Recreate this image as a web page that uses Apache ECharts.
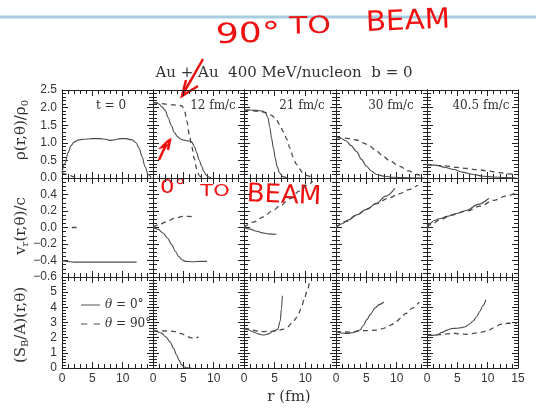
<!DOCTYPE html>
<html>
<head>
<meta charset="utf-8">
<title>Au + Au 400 MeV/nucleon b = 0</title>
<script src="https://cdn.jsdelivr.net/npm/echarts@6/dist/echarts.min.js"></script>
<style>
html, body { margin: 0; padding: 0; background: #fff; }
#main { width: 536px; height: 408px; }
</style>
</head>
<body>
<div id="main"></div>
<script>
// panel titles and tick values
var panelTimes = ['t = 0', '12 fm/c', '21 fm/c', '30 fm/c', '40.5 fm/c'];
var rTicks = [0, 5, 10, 15];
var rhoTicks = [0, 0.5, 1, 1.5, 2, 2.5];
var vTicks = [-0.6, -0.4, -0.2, 0, 0.2, 0.4, 0.6];
var sTicks = [0, 1, 2, 3, 4, 5, 6];
var rhoLabels = ['0.0', '0.5', '1.0', '1.5', '2.0', '2.5'];
var vLabels = ['\u22120.6', '\u22120.4', '\u22120.2', '0.0', '0.2', '0.4', ''];
var sLabels = ['0', '1', '2', '3', '4', '5', ''];
var legendNames = ['\u03b8 = 0\u00b0', '\u03b8 = 90\u00b0'];

// density rho(r,theta)/rho0 : [r, value]
var rho_t0_solid = [[0,0.16],[0.5,0.42],[1,0.72],[1.5,0.92],[2,1.02],[2.7,1.08],[3.5,1.1],[5,1.12],[6.3,1.12],[7.2,1.1],[7.9,1.07],[8.6,1.08],[9.6,1.12],[10.5,1.12],[11.5,1.09],[12.2,1.0],[12.7,0.85],[13.2,0.6],[13.7,0.32],[14.2,0.1],[14.7,0.01]];
var rho_t0_dash = [[0,0.15],[1,0.1],[2,0.03],[2.5,0]];
var rho_12_solid = [[0,2.15],[0.5,2.14],[1,2.1],[1.5,2.02],[2,1.92],[2.5,1.72],[3,1.5],[3.5,1.3],[4,1.18],[4.5,1.11],[5,1.08],[5.5,1.06],[6,1.05],[6.4,1.02],[6.8,0.9],[7.2,0.72],[7.6,0.52],[8,0.34],[8.4,0.18],[8.8,0.08],[9.2,0.03],[9.6,0]];
var rho_12_dash = [[0,2.15],[1,2.12],[2,2.1],[3,2.08],[4,2.07],[4.8,2.05],[5.2,1.9],[5.6,1.6],[6,1.22],[6.4,0.88],[6.8,0.55],[7.2,0.26],[7.6,0.07],[8,0]];
var rho_21_solid = [[0,1.93],[1,1.93],[2,1.92],[3,1.9],[3.5,1.85],[3.9,1.72],[4.2,1.45],[4.5,1.12],[4.8,0.85],[5.1,0.56],[5.4,0.33],[5.8,0.14],[6.3,0.04],[7,0]];
var rho_21_dash = [[0,1.93],[1,1.92],[2,1.9],[3,1.88],[3.8,1.85],[4.5,1.78],[5.2,1.68],[5.8,1.52],[6.4,1.32],[7,1.1],[7.5,0.85],[8,0.6],[8.5,0.4],[9,0.26],[9.6,0.15],[10.3,0.07],[11,0.02]];
var rho_30_solid = [[0,1.16],[0.8,1.13],[1.7,1.05],[2.5,0.92],[3.4,0.75],[4.2,0.53],[5,0.34],[5.8,0.2],[6.7,0.1],[8,0.05],[9.4,0.02],[11,0.01],[13,0],[14.5,0]];
var rho_30_dash = [[0,1.16],[1,1.14],[2,1.12],[3.4,1.08],[4.5,1],[5.6,0.9],[6.7,0.76],[7.8,0.61],[9,0.47],[10.5,0.33],[12,0.2],[13.3,0.1],[14.6,0.03]];
var rho_40_solid = [[0,0.38],[1.6,0.36],[3,0.3],[4.4,0.24],[6,0.16],[7.7,0.1],[9.3,0.05],[11,0.03],[13,0.01],[14.8,0]];
var rho_40_dash = [[0,0.38],[1.5,0.36],[3.3,0.34],[5,0.3],[6.6,0.27],[8.2,0.24],[10,0.2],[12,0.15],[13.5,0.12],[14.8,0.09]];

// radial velocity v_r(r,theta)/c
var v_t0_solid = [[0,-0.4],[0.8,-0.41],[2,-0.42],[5,-0.42],[8,-0.42],[10,-0.42],[12.3,-0.42]];
var v_t0_dash = [[1.6,0],[2.4,0]];
var v_12_solid = [[0,0],[0.8,-0.02],[1.7,-0.07],[2.4,-0.13],[3.1,-0.21],[3.7,-0.29],[4.2,-0.35],[4.8,-0.39],[5.3,-0.41],[6.5,-0.415],[8,-0.41],[8.9,-0.41]];
var v_12_dash = [[0,0],[1,0.035],[2.25,0.07],[3.5,0.11],[5,0.135],[6,0.135],[6.9,0.12]];
var v_21_solid = [[0,0],[1,-0.02],[2.1,-0.045],[3,-0.065],[3.8,-0.075],[4.6,-0.08],[5.3,-0.082]];
var v_21_dash = [[0,0],[1.5,0.065],[3.2,0.13],[4.6,0.2],[6,0.27],[7.5,0.35],[9,0.44],[10.2,0.51],[11.2,0.56]];
var v_30_solid = [[0,0],[1,0.045],[2,0.09],[3.4,0.153],[5,0.22],[6.7,0.294],[8.2,0.38],[9.7,0.475]];
var v_30_dash = [[0,0],[1.7,0.075],[3.4,0.15],[5,0.22],[6.7,0.29],[8.5,0.35],[10.5,0.41],[12,0.46],[13.6,0.52]];
var v_40_solid = [[0,0],[0.5,0.05],[1.2,0.085],[2.2,0.11],[3.3,0.135],[4.9,0.17],[6.6,0.21],[8.4,0.28],[10.2,0.355]];
var v_40_dash = [[0,0],[1,0.05],[2,0.09],[4,0.15],[6.6,0.2],[8.8,0.26],[11,0.33],[13,0.38],[14.8,0.43]];

// entropy per baryon (S_B/A)(r,theta)
var s_12_solid = [[0,2.45],[0.7,2.4],[1.4,2.3],[2.1,2.05],[2.8,1.73],[3.4,1.3],[3.9,0.85],[4.3,0.5],[4.7,0.22],[5.1,0.08],[5.5,0.02],[6.3,0]];
var s_12_dash = [[0,2.45],[0.8,2.45],[1.7,2.45],[2.8,2.43],[3.9,2.4],[4.8,2.25],[5.5,2.1],[6.2,2],[6.9,1.95],[7.5,2.05]];
var s_21_solid = [[0,2.62],[0.7,2.52],[1.5,2.38],[2.3,2.25],[3.2,2.18],[4,2.25],[4.8,2.44],[5.5,2.55],[5.9,3.1],[6.1,3.9],[6.25,4.77]];
var s_21_dash = [[0,2.62],[0.8,2.58],[1.5,2.5],[2.3,2.42],[3.2,2.4],[4.3,2.42],[5.4,2.45],[6.3,2.55],[7,2.68],[7.8,2.95],[8.7,3.37],[9.3,3.9],[9.8,4.5],[10.3,5.1],[10.7,5.7]];
var s_30_solid = [[0,2.4],[0.6,2.33],[1.2,2.29],[2,2.28],[2.6,2.32],[3.3,2.4],[3.95,2.51],[4.5,2.8],[5.05,3.17],[5.7,3.55],[6.4,3.95],[7.1,4.18],[7.9,4.35]];
var s_30_dash = [[0,2.4],[1,2.38],[2,2.37],[3,2.4],[4,2.45],[5.3,2.47],[6.7,2.5],[7.5,2.58],[8.3,2.66],[9.1,2.85],[9.9,3.06],[10.7,3.3],[11.5,3.6],[12.6,3.95],[13.7,4.35]];
var s_40_solid = [[0,2.15],[0.8,2.15],[1.6,2.18],[2.5,2.35],[3.3,2.5],[4.1,2.6],[4.9,2.62],[5.6,2.65],[6.3,2.72],[7,2.9],[7.6,3.1],[8.2,3.4],[8.7,3.73],[9.2,4.1],[9.7,4.5]];
var s_40_dash = [[0,2.15],[1,2.17],[2.2,2.2],[3.3,2.25],[4.4,2.29],[5.5,2.25],[6.6,2.22],[7.7,2.28],[8.8,2.35],[9.9,2.44],[11,2.65],[12.1,2.88],[13.4,2.95],[14.8,2.95]];

var rows = [
    { ticks: rhoTicks, labels: rhoLabels, minor: 5,
      solid: [rho_t0_solid, rho_12_solid, rho_21_solid, rho_30_solid, rho_40_solid],
      dash: [rho_t0_dash, rho_12_dash, rho_21_dash, rho_30_dash, rho_40_dash] },
    { ticks: vTicks, labels: vLabels, minor: 4,
      solid: [v_t0_solid, v_12_solid, v_21_solid, v_30_solid, v_40_solid],
      dash: [v_t0_dash, v_12_dash, v_21_dash, v_30_dash, v_40_dash] },
    { ticks: sTicks, labels: sLabels, minor: 5,
      solid: [null, s_12_solid, s_21_solid, s_30_solid, s_40_solid],
      dash: [null, s_12_dash, s_21_dash, s_30_dash, s_40_dash] }
];

// panel frame positions in px
var colX = [62, 153, 244, 336, 427, 518];
var rowY = [90, 178, 277, 368];

var ink = '#222';
var curve = '#4a4a4a';

var grids = [], xAxes = [], yAxes = [], series = [];

for (var r = 0; r < 3; r++) {
    for (var c = 0; c < 5; c++) {
        var i = r * 5 + c;
        var row = rows[r];
        grids.push({
            left: colX[c], top: rowY[r],
            width: colX[c + 1] - colX[c], height: rowY[r + 1] - rowY[r],
            outerBoundsMode: 'none'
        });
        [false, true].forEach(function (second) {
            var showX = (r === 2 && !second);
            var lastCol = (c === 4);
            xAxes.push({
                type: 'value', gridIndex: i, position: second ? 'top' : 'bottom',
                min: rTicks[0], max: rTicks[rTicks.length - 1], interval: rTicks[1] - rTicks[0],
                axisLine: { show: true, onZero: false, lineStyle: { color: ink, width: 1 } },
                axisTick: { show: true, inside: true, length: 6, lineStyle: { color: ink, width: 1 } },
                minorTick: { show: true, splitNumber: 5, length: 4, lineStyle: { color: ink, width: 1 } },
                splitLine: { show: false },
                axisLabel: {
                    show: showX, margin: 5, color: '#333', fontFamily: 'Liberation Sans', fontSize: 12,
                    showMinLabel: true, showMaxLabel: true,
                    formatter: function (v) { return (v === 15 && !lastCol) ? '' : String(v); }
                }
            });
            var labels = row.labels;
            yAxes.push({
                type: 'value', gridIndex: i, position: second ? 'right' : 'left',
                min: row.ticks[0], max: row.ticks[row.ticks.length - 1], interval: row.ticks[1] - row.ticks[0],
                axisLine: { show: true, onZero: false, lineStyle: { color: ink, width: 1 } },
                axisTick: { show: true, inside: true, length: 6, lineStyle: { color: ink, width: 1 } },
                minorTick: { show: true, splitNumber: row.minor, length: 4, lineStyle: { color: ink, width: 1 } },
                splitLine: { show: false },
                axisLabel: {
                    show: (c === 0 && !second), margin: 5, color: '#333', fontFamily: 'Liberation Sans', fontSize: 12,
                    showMinLabel: true, showMaxLabel: true,
                    formatter: function (v, idx) { return labels[idx] !== undefined ? labels[idx] : ''; }
                }
            });
        });
        if (row.solid[c]) {
            series.push({
                name: legendNames[0], type: 'line', xAxisIndex: 2 * i, yAxisIndex: 2 * i,
                data: row.solid[c], symbol: 'none', smooth: 0.35, smoothMonotone: 'x',
                itemStyle: { color: curve },
                lineStyle: { color: curve, width: 1.1 }, silent: true
            });
        }
        if (row.dash[c]) {
            series.push({
                name: legendNames[1], type: 'line', xAxisIndex: 2 * i, yAxisIndex: 2 * i,
                data: row.dash[c], symbol: 'none', smooth: 0.35, smoothMonotone: 'x',
                itemStyle: { color: curve },
                lineStyle: { color: curve, width: 1.3, type: [5, 4] }, silent: true
            });
        }
    }
}

var serif = 'DejaVu Serif';
var panelLabelX = [111, 213, 302, 391, 481];
var graphics = [
    // slide separator
    { type: 'line', shape: { x1: 0, y1: 17, x2: 536, y2: 17 }, style: { stroke: '#a8cde0', lineWidth: 3 } },
    { type: 'text', x: 284, y: 73, style: { text: 'Au + Au  400 MeV/nucleon  b = 0', font: '15px "DejaVu Serif"', fill: '#333', textAlign: 'center', textVerticalAlign: 'middle' } },
    { type: 'text', x: 289, y: 397, style: { text: 'r (fm)', font: '15px "DejaVu Serif"', fill: '#333', textAlign: 'center', textVerticalAlign: 'middle' } }
];
panelTimes.forEach(function (t, k) {
    graphics.push({ type: 'text', x: panelLabelX[k], y: 106,
        style: { text: t, font: '12px "DejaVu Serif"', fill: '#333', textAlign: 'center', textVerticalAlign: 'middle' } });
});
var nameRich = {
    m: { fontFamily: serif, fontSize: 15, lineHeight: 18, fill: '#333', verticalAlign: 'middle' },
    s: { fontFamily: serif, fontSize: 10, lineHeight: 10, fill: '#333', verticalAlign: 'bottom' }
};
var yNames = [
    ['{m|\u03c1(r,\u03b8)/\u03c1}{s|0}', 130],
    ['{m|v}{s|r}{m|(r,\u03b8)/c}', 226],
    ['{m|(S}{s|B}{m|/A)(r,\u03b8)}', 325]
];
yNames.forEach(function (n) {
    graphics.push({ type: 'text', x: 21, y: n[1], rotation: Math.PI / 2,
        style: { text: n[0], rich: nameRich, textAlign: 'center', textVerticalAlign: 'middle' } });
});

// red handwritten notes on the slide
var red = '#f01010';
var hand = function (txt, x, y, size, sx, rot) {
    return { type: 'text', x: x, y: y, scaleX: sx, rotation: rot || 0,
        style: { text: txt, font: size + 'px "DejaVu Sans"', fill: red, textAlign: 'center', textVerticalAlign: 'middle' } };
};
graphics.push(hand('90\u00b0', 248, 35, 28, 1.3, 0.03));
graphics.push(hand('TO', 310, 27, 24, 1.25, 0.02));
graphics.push(hand('BEAM', 408, 22, 28, 1.05, 0.04));
graphics.push(hand('0\u00b0', 173, 188, 19, 1.2, 0));
graphics.push(hand('TO', 215, 192, 15, 1.4, 0));
graphics.push(hand('BEAM', 284, 196, 26, 1.0, -0.04));
graphics.push({ type: 'polyline', shape: { points: [[203, 59], [182, 96]] }, style: { stroke: red, lineWidth: 2.5, fill: null } });
graphics.push({ type: 'polyline', shape: { points: [[186, 80], [182, 96], [198, 86]] }, style: { stroke: red, lineWidth: 2.5, fill: null } });
graphics.push({ type: 'polyline', shape: { points: [[191, 80], [183, 93]] }, style: { stroke: red, lineWidth: 2, fill: null } });
graphics.push({ type: 'polyline', shape: { points: [[159, 160], [163, 151], [166, 146], [162, 147], [168, 141], [170, 140], [168, 150]] }, style: { stroke: red, lineWidth: 2.5, fill: null } });

var myChart = echarts.init(document.getElementById('main'), null, { renderer: 'canvas' });
var option = {
    backgroundColor: '#fff',
    animation: false,
    grid: grids,
    xAxis: xAxes,
    yAxis: yAxes,
    legend: {
        data: [
            { name: legendNames[0], icon: 'path://M0,0h20v1h-20z' },
            { name: legendNames[1], icon: 'path://M0,0h6v1h-6zM12,0h6v1h-6z' }
        ],
        left: 76, top: 293, orient: 'vertical',
        itemWidth: 19, itemHeight: 1.3, itemGap: 5, selectedMode: false,
        formatter: function (name) { return '{i|\u03b8}' + name.slice(1); },
        textStyle: { fontFamily: serif, fontSize: 12, color: '#333', lineHeight: 14,
            rich: { i: { fontFamily: serif, fontStyle: 'italic', fontSize: 12, color: '#333' } } }
    },
    series: series,
    graphic: graphics
};
myChart.setOption(option);
</script>
</body>
</html>
